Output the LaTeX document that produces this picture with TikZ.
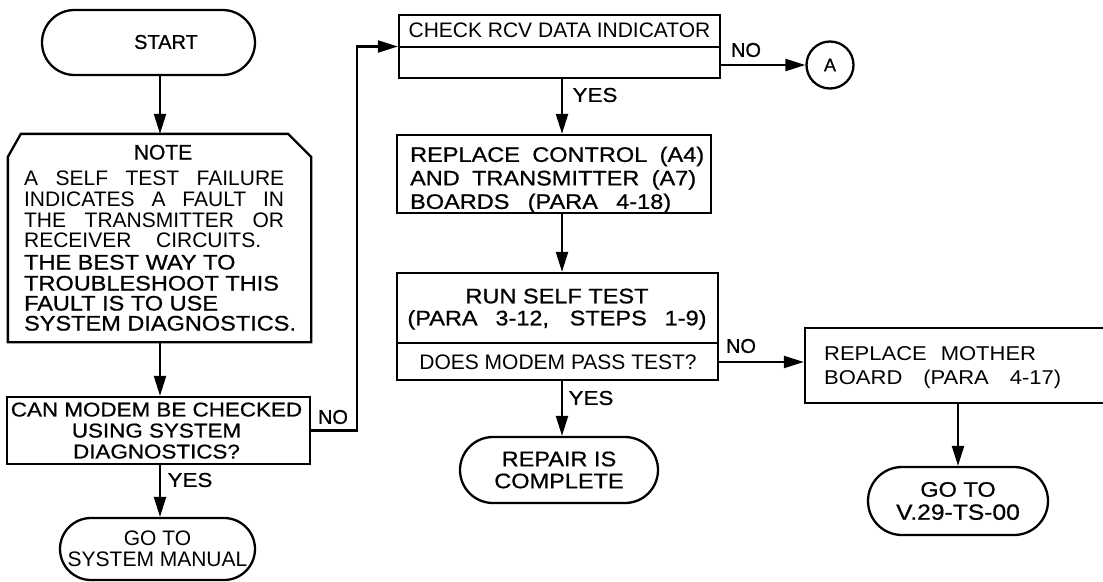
\documentclass[tikz,border=0pt]{standalone}
\usepackage{fontspec}
\setmainfont{Liberation Sans}
\newfontfamily\widesans[FakeStretch=1.12,FakeBold=0.8]{Liberation Sans}
\newfontfamily\heavysans[FakeBold=0.8]{Liberation Sans}
\newfontfamily\thinwide[FakeStretch=1.1]{Liberation Sans}
\usetikzlibrary{arrows.meta,shapes.misc}
\tikzset{
  arr/.style={-{Triangle[length=20pt,width=12pt]}},
  box/.style={draw, rectangle, inner sep=0pt},
  term/.style={draw, rounded rectangle, inner sep=0pt, align=center},
  reg/.style={inner sep=0pt, font=\fontsize{21}{21}\selectfont},
  wd/.style={inner sep=0pt, font=\widesans\fontsize{21}{22}\selectfont},
  lbl/.style={inner sep=0pt, font=\widesans\fontsize{20}{20}\selectfont},
  nolbl/.style={inner sep=0pt, font=\heavysans\fontsize{20}{20}\selectfont}
}
\begin{document}
\begin{tikzpicture}[x=1pt,y=-1pt,line width=2.3pt]
\useasboundingbox (0,0) rectangle (1103,581);
\clip (0,0) rectangle (1103,581);

% helper coordinates
\coordinate (xa) at (160,0);
\coordinate (xb) at (562,0);
\coordinate (xc) at (958,0);
\coordinate (vx) at (357,0);
\coordinate (d1) at (0,47);
\coordinate (d2) at (0,343);
\coordinate (ny) at (0,362);

% START
\node[term, minimum width=213pt, minimum height=65pt] (start) at (148.5,42.5) {};
\node[inner sep=0pt, font=\heavysans\fontsize{20}{20}\selectfont] (tstart) at (166,42) {START};

% NOTE
\node[inner sep=0pt, minimum width=301pt, minimum height=206pt] (note) at (159.5,238) {};
\draw ([yshift=-23pt]note.north west) -- ([xshift=13pt]note.north west)
  -- ([xshift=-23pt]note.north east) -- ([yshift=-23pt]note.north east)
  -- (note.south east) -- (note.south west) -- cycle;
\node[inner sep=0pt, font=\heavysans\fontsize{21}{21}\selectfont, anchor=base] (tnote) at (163,159.5) {NOTE};
\node[reg, anchor=base west] (l1) at (23,185.5) {\makebox[260pt][s]{A SELF TEST FAILURE}};
\node[reg, anchor=base west] (l2) at (23,206.5) {\makebox[260pt][s]{INDICATES A FAULT IN}};
\node[reg, anchor=base west] (l3) at (23,227.5) {\makebox[260pt][s]{THE TRANSMITTER OR}};
\node[reg, anchor=base west] (l4) at (23,247.5) {\makebox[237pt][s]{RECEIVER\ \ CIRCUITS.}};
\node[wd, anchor=base west] (l5) at (23,269.5) {THE BEST WAY TO};
\node[wd, anchor=base west] (l6) at (23,290.5) {TROUBLESHOOT THIS};
\node[wd, anchor=base west] (l7) at (23,310.5) {FAULT IS TO USE};
\node[wd, anchor=base west] (l8) at (23,330.5) {SYSTEM DIAGNOSTICS.};

% decision
\node[box, minimum width=303pt, minimum height=67pt] (dec) at (158.5,430.5) {};
\node[inner sep=0pt, align=center, font=\widesans\fontsize{20}{21}\selectfont] (tdec) at (156.5,430.6)
  {CAN MODEM BE CHECKED\\USING SYSTEM\\DIAGNOSTICS?};

% GO TO SYSTEM MANUAL
\node[term, minimum width=195pt, minimum height=62pt, font=\fontsize{21}{21}\selectfont] (goto1) at (157.5,549)
  {GO TO\\SYSTEM MANUAL};

% CHECK RCV
\node[box, minimum width=321pt, minimum height=63pt] (check) at (559.5,46.5) {};
\draw (check.west |- d1) -- (check.east |- d1);
\node[reg] (tcheck) at (559.5,30) {CHECK RCV DATA INDICATOR};

% circle A
\node[draw, circle, minimum size=47pt, inner sep=0pt, font=\heavysans\fontsize{18}{18}\selectfont] (A) at (830,65) {A};

% REPLACE CONTROL
\node[box, minimum width=314pt, minimum height=78pt] (rep) at (554,174) {};
\node[inner sep=0pt, anchor=north west, align=left, font=\widesans\fontsize{21}{23.5}\selectfont] (trep) at (409,145.5)
  {\makebox[294pt][s]{REPLACE CONTROL (A4)}\\\makebox[286pt][s]{AND TRANSMITTER (A7)}\\\makebox[261pt][s]{BOARDS (PARA 4-18)}};

% RUN SELF TEST
\node[box, minimum width=321pt, minimum height=107pt] (run) at (557.5,326.5) {};
\draw (run.west |- d2) -- (run.east |- d2);
\node[inner sep=0pt, anchor=north, align=center, font=\widesans\fontsize{21}{22}\selectfont] (trun) at (557,287.5)
  {RUN SELF TEST\\\makebox[299pt][s]{(PARA 3-12, STEPS 1-9)}};
\node[reg] (tdoes) at (558,362) {DOES MODEM PASS TEST?};

% REPAIR IS COMPLETE
\node[term, minimum width=198pt, minimum height=66pt, font=\widesans\fontsize{21}{22}\selectfont] (rep2) at (559,470)
  {REPAIR IS\\COMPLETE};

% MOTHER BOARD
\node[box, minimum width=310pt, minimum height=75pt] (mother) at (960,365.5) {};
\node[inner sep=0pt, anchor=north west, align=left, font=\thinwide\fontsize{20}{24}\selectfont] (tmother) at (823,345.8)
  {\makebox[212pt][s]{REPLACE\ \ MOTHER}\\\makebox[237pt][s]{BOARD\ \ (PARA\ \ 4-17)}};

% GO TO V.29
\node[term, minimum width=180pt, minimum height=68pt, font=\widesans\fontsize{21}{23}\selectfont] (goto2) at (958,501)
  {GO TO\\{\fontsize{22}{23}\selectfont V.29-TS-00}};

% connectors
\draw[arr] (start.south -| xa) -- (note.north -| xa);
\draw[arr] (note.south -| xa) -- (dec.north -| xa);
\draw[arr] (dec.south -| xa) -- (goto1.north -| xa);
\draw[arr] (dec.east) -| (vx |- check.west) -- (check.west);
\draw[arr] (A.west -| check.east) -- (A.west);
\draw[arr] (check.south -| xb) -- (rep.north -| xb);
\draw[arr] (rep.south -| xb) -- (run.north -| xb);
\draw[arr] (run.south -| xb) -- (rep2.north -| xb);
\draw[arr] (run.east |- ny) -- (mother.west |- ny);
\draw[arr] (mother.south -| xc) -- (goto2.north -| xc);

% labels
\node[nolbl] (no1) at (333,417) {NO};
\node[nolbl] (no2) at (746,50) {NO};
\node[nolbl] (no3) at (741,346) {NO};
\node[lbl] (yes1) at (190,480) {YES};
\node[lbl] (yes2) at (595,95) {YES};
\node[lbl] (yes3) at (591,398) {YES};
\end{tikzpicture}
\end{document}
